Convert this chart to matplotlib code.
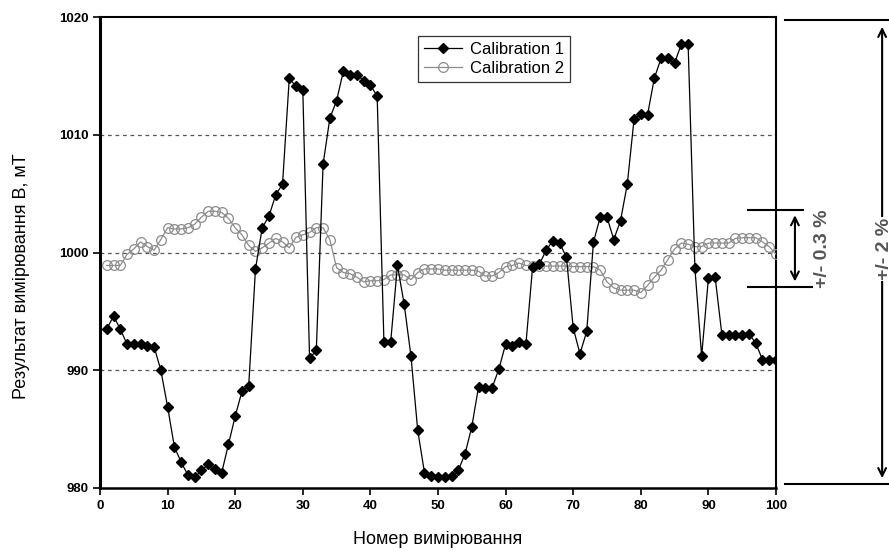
import matplotlib
matplotlib.use("Agg")
import matplotlib.pyplot as plt

x_vals = list(range(1, 101))

cal1 = [993.5, 994.6, 993.5, 992.2, 992.2, 992.2, 992.1, 992.0, 990.0, 986.9,
        983.5, 982.2, 981.1, 980.9, 981.5, 982.0, 981.6, 981.3, 983.7, 986.1,
        988.2, 988.7, 998.6, 1002.1, 1003.1, 1004.9, 1005.8, 1014.8, 1014.1, 1013.8,
        991.0, 991.7, 1007.5, 1011.4, 1012.9, 1015.4, 1015.1, 1015.1, 1014.6, 1014.2,
        1013.3, 992.4, 992.4, 998.9, 995.6, 991.2, 984.9, 981.3, 981.0, 980.9,
        980.9, 981.0, 981.5, 982.9, 985.2, 988.6, 988.5, 988.5, 990.1, 992.2,
        992.1, 992.4, 992.2, 998.8, 999.0, 1000.2, 1001.0, 1000.8, 999.6, 993.6,
        991.4, 993.3, 1000.9, 1003.0, 1003.0, 1001.1, 1002.7, 1005.8, 1011.3, 1011.8,
        1011.7, 1014.8, 1016.5, 1016.5, 1016.1, 1017.7, 1017.7, 998.7, 991.2, 997.8,
        997.9, 993.0, 993.0, 993.0, 993.0, 993.1, 992.3, 990.9, 990.9, 990.9]

cal2 = [998.9, 998.9, 998.9, 999.85, 1000.3, 1000.9, 1000.5, 1000.2, 1001.1, 1002.1,
        1002.0, 1002.0, 1002.1, 1002.4, 1003.0, 1003.5, 1003.5, 1003.4, 1002.9, 1002.1,
        1001.5, 1000.6, 1000.1, 1000.4, 1000.8, 1001.2, 1000.9, 1000.4, 1001.3, 1001.5,
        1001.7, 1002.1, 1002.1, 1001.1, 998.7, 998.3, 998.2, 997.9, 997.5, 997.6,
        997.6, 997.7, 998.1, 998.1, 998.1, 997.7, 998.3, 998.6, 998.6, 998.6,
        998.5, 998.5, 998.5, 998.5, 998.5, 998.4, 998.0, 998.0, 998.3, 998.8,
        998.9, 999.1, 998.9, 998.85, 998.85, 998.85, 998.85, 998.85, 998.85, 998.8,
        998.8, 998.8, 998.8, 998.5, 997.5, 997.0, 996.8, 996.8, 996.8, 996.6,
        997.2, 997.9, 998.5, 999.4, 1000.3, 1000.8, 1000.7, 1000.5, 1000.5, 1000.8,
        1000.8, 1000.8, 1000.8, 1001.2, 1001.25, 1001.25, 1001.25, 1000.9, 1000.5, 999.85]

x_ticks = [0, 10, 20, 30, 40, 50, 60, 70, 80, 90, 100]
y_ticks = [980, 990, 1000, 1010, 1020]
series_names = ["Calibration 1", "Calibration 2"]
x_label = "Номер вимірювання"
y_label = "Результат вимірювання B, мТ"
band_small = "+/- 0.3 %"
band_big = "+/- 2 %"

plt.rcParams['font.family'] = ['Liberation Sans', 'DejaVu Sans']

fig = plt.figure(figsize=(8.89, 5.54), dpi=100)
ax = fig.add_axes([100/889, 66/554, 676/889, 471/554])

ax.plot(x_vals, cal1, color='black', lw=0.9, marker='D', markersize=5.5,
        markerfacecolor='black', markeredgecolor='black', label=series_names[0], zorder=4)
ax.plot(x_vals, cal2, color='#8c8c8c', lw=0.9, marker='o', markersize=7,
        markerfacecolor='none', markeredgecolor='#8c8c8c', markeredgewidth=0.9,
        label=series_names[1], zorder=3)

ax.set_xlim(0, 100)
ax.set_ylim(980, 1020)
ax.set_xticks(x_ticks)
ax.set_yticks(y_ticks)
for yv in y_ticks[1:-1]:
    ax.axhline(yv, color='#555555', lw=0.9, ls=(0, (3, 3)), zorder=1)

ax.tick_params(direction='out', length=5, width=1.2, labelsize=9.5, colors='black')
for lbl in ax.get_xticklabels() + ax.get_yticklabels():
    lbl.set_fontweight('bold')
ax.set_xlabel(x_label, fontsize=13)
ax.set_ylabel(y_label, fontsize=13)
ax.xaxis.set_label_coords(0.5, -0.092)
ax.yaxis.set_label_coords(-0.104, 0.45)

ax.spines['left'].set_linewidth(2.2)
ax.spines['bottom'].set_linewidth(1.8)
ax.spines['top'].set_linewidth(1.5)
ax.spines['right'].set_linewidth(1.5)

leg = ax.legend(loc='upper left', bbox_to_anchor=(318/676, 1 - 19/471), fontsize=12,
                frameon=True, fancybox=False, edgecolor='black', borderpad=0.35,
                handlelength=2.3, handletextpad=0.5, labelspacing=0.25, borderaxespad=0)
leg.get_frame().set_linewidth(0.9)

# right-side annotations (data coordinates, outside axes)
kw = dict(color='black', lw=1.5, clip_on=False)
ax.plot([101.3, 118], [1019.75, 1019.75], **kw)
ax.plot([101.3, 118], [980.3, 980.3], **kw)
ax.plot([95.9, 104.0], [1003.6, 1003.6], **kw)
ax.plot([95.9, 105.3], [997.1, 997.1], **kw)

ax.annotate('', xy=(102.8, 997.3), xytext=(102.8, 1003.4), xycoords='data',
            arrowprops=dict(arrowstyle='<->', lw=1.5, color='black', mutation_scale=14),
            annotation_clip=False)
ax.annotate('', xy=(115.7, 980.6), xytext=(115.7, 1019.4), xycoords='data',
            arrowprops=dict(arrowstyle='<->', lw=1.5, color='black', mutation_scale=14),
            annotation_clip=False)

narrow = ['Liberation Sans Narrow', 'Liberation Sans', 'DejaVu Sans']
ax.text(106.9, 1000.3, band_small, rotation=90, ha='center', va='center',
        fontsize=14, fontweight='bold', color='#555555', family=narrow, clip_on=False)
ax.text(116.0, 1000.3, band_big, rotation=90, ha='center', va='center',
        fontsize=14, fontweight='bold', color='#555555', family=narrow, clip_on=False,
        bbox=dict(facecolor='white', edgecolor='none', pad=1))

fig.savefig('out.png', dpi=100)
